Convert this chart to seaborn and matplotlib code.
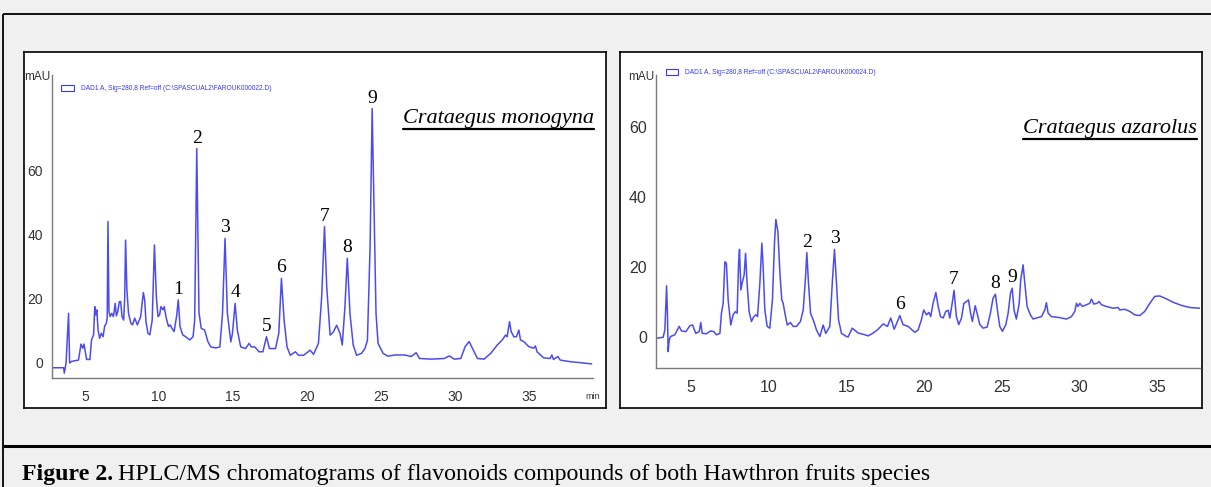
import numpy as np
import pandas as pd
import matplotlib
matplotlib.use("Agg")
import matplotlib.pyplot as plt
from matplotlib.lines import Line2D
from matplotlib.patches import Patch
from matplotlib.ticker import MultipleLocator
import seaborn as sns

# ---------------- data ----------------
monogyna_time = [2.8, 3.56, 3.6, 3.72, 3.89, 3.96, 4.1, 4.56, 4.73, 4.85, 4.93, 5.11, 5.33, 5.44, 5.58,
                 5.66, 5.73, 5.8, 5.88, 5.99, 6.1, 6.22, 6.33, 6.44, 6.5, 6.55, 6.62, 6.7, 6.81, 6.92,
                 7.04, 7.12, 7.21, 7.32, 7.41, 7.5, 7.61, 7.68, 7.74, 7.83, 7.94, 8.1, 8.21, 8.36, 8.54,
                 8.76, 8.94, 9.03, 9.12, 9.25, 9.38, 9.54, 9.69, 9.82, 9.93, 10.04, 10.13, 10.27, 10.35,
                 10.49, 10.64, 10.75, 10.88, 11.02, 11.2, 11.3, 11.42, 11.6, 11.86, 12.08, 12.3, 12.41,
                 12.55, 12.7, 12.85, 13.08, 13.3, 13.5, 13.84, 14.11, 14.29, 14.46, 14.62, 14.85, 14.96,
                 15.14, 15.29, 15.52, 15.85, 16.08, 16.25, 16.48, 16.75, 17.02, 17.26, 17.46, 17.87,
                 18.09, 18.27, 18.45, 18.65, 18.87, 19.21, 19.43, 19.77, 20.21, 20.44, 20.77, 20.99,
                 21.18, 21.33, 21.56, 21.78, 22.0, 22.23, 22.38, 22.56, 22.72, 22.9, 23.12, 23.35, 23.68,
                 23.91, 24.08, 24.26, 24.4, 24.53, 24.66, 24.8, 25.14, 25.47, 25.92, 26.59, 27.04, 27.37,
                 27.6, 28.38, 29.27, 29.61, 29.94, 30.39, 30.68, 30.95, 31.17, 31.51, 31.96, 32.41,
                 32.85, 33.19, 33.41, 33.52, 33.68, 33.79, 33.97, 34.15, 34.31, 34.42, 34.64, 34.98,
                 35.31, 35.43, 35.54, 35.98, 36.43, 36.54, 36.65, 36.95, 37.1, 37.77, 38.44, 39.23]
monogyna_mau = [-1.5, -1.5, -3.2, 0.0, 15.5, 0.0, 0.5, 0.9, 5.9, 4.6, 5.9, 1.1, 1.1, 7.2, 8.8,
                17.6, 15.0, 16.6, 10.3, 7.7, 9.3, 8.2, 11.6, 12.4, 14.0, 44.2, 16.0, 14.5, 15.5, 14.5,
                18.6, 14.7, 16.0, 19.2, 19.2, 14.5, 13.4, 20.0, 38.4, 22.8, 15.5, 12.4, 11.9, 14.0, 11.9,
                14.5, 22.0, 19.7, 12.9, 9.3, 8.8, 13.4, 36.9, 20.7, 14.5, 15.0, 17.6, 16.6, 17.6,
                14.0, 11.4, 11.9, 10.8, 9.8, 15.0, 19.7, 11.4, 8.8, 8.0, 7.2, 8.2, 13.4,
                67.0, 15.8, 10.8, 10.3, 6.7, 5.0, 4.7, 5.0, 15.5, 38.9, 15.5, 6.6, 9.2,
                18.6, 10.3, 5.0, 4.5, 6.1, 5.0, 5.0, 3.5, 3.5, 8.2, 4.5, 4.5,
                9.2, 26.4, 13.4, 5.0, 2.4, 3.5, 2.4, 2.4, 4.0, 2.7, 6.1, 20.7,
                42.6, 23.8, 8.7, 9.7, 11.8, 9.2, 5.6, 17.5, 32.7, 15.5, 5.6, 2.4, 3.0,
                4.5, 7.1, 36.3, 79.5, 46.7, 15.5, 6.1, 3.0, 2.1, 2.5, 2.5, 2.0, 3.2,
                1.4, 1.2, 1.4, 2.2, 1.2, 1.4, 5.1, 6.7, 4.6, 1.4, 1.2, 3.0,
                5.6, 7.2, 8.7, 8.2, 12.9, 9.8, 8.2, 8.2, 10.3, 7.2, 6.7, 5.1,
                4.6, 5.3, 3.5, 1.6, 1.4, 2.5, 1.1, 2.0, 0.9, 0.4, 0.1, -0.3]

azarolus_time = [2.79, 3.22, 3.33, 3.44, 3.5, 3.54, 3.61, 3.69, 3.97, 4.25, 4.4, 4.68, 4.94, 5.11, 5.32,
                 5.54, 5.64, 5.73, 6.01, 6.27, 6.48, 6.65, 6.87, 6.97, 7.08, 7.19, 7.29, 7.4, 7.57, 7.72,
                 7.85, 7.98, 8.07, 8.13, 8.22, 8.32, 8.43, 8.52, 8.62, 8.75, 8.9, 9.05, 9.18, 9.29, 9.44,
                 9.57, 9.65, 9.76, 9.91, 10.08, 10.25, 10.38, 10.47, 10.6, 10.73, 10.85, 10.94, 11.05,
                 11.2, 11.41, 11.58, 11.8, 12.05, 12.23, 12.38, 12.46, 12.57, 12.7, 12.91, 13.08, 13.3,
                 13.51, 13.68, 13.94, 14.11, 14.24, 14.37, 14.5, 14.69, 15.01, 15.12, 15.38, 15.77,
                 16.19, 16.41, 16.73, 17.05, 17.37, 17.65, 17.86, 18.08, 18.29, 18.44, 18.65, 18.98,
                 19.4, 19.62, 19.83, 19.98, 20.16, 20.31, 20.43, 20.58, 20.76, 20.91, 21.06, 21.23,
                 21.4, 21.55, 21.66, 21.81, 21.93, 22.08, 22.23, 22.41, 22.56, 22.73, 22.86, 22.99,
                 23.11, 23.29, 23.41, 23.59, 23.8, 24.06, 24.27, 24.44, 24.59, 24.72, 24.87, 25.04,
                 25.26, 25.41, 25.56, 25.67, 25.79, 25.94, 26.12, 26.22, 26.37, 26.48, 26.63, 26.84,
                 27.02, 27.23, 27.55, 27.77, 27.87, 27.98, 28.2, 28.73, 29.16, 29.48, 29.7, 29.8,
                 29.91, 30.02, 30.19, 30.45, 30.66, 30.77, 30.92, 31.13, 31.26, 31.41, 31.73, 32.16,
                 32.48, 32.59, 32.91, 33.23, 33.55, 33.88, 34.2, 34.52, 34.84, 35.16, 35.48, 36.02,
                 36.56, 37.09, 37.74]
azarolus_mau = [-0.4, -0.1, 2.0, 14.6, 5.8, -4.2, -0.9, 0.1, 0.6, 3.0, 1.7, 1.5, 3.2, 3.4, 1.0,
                1.5, 4.1, 1.0, 0.9, 1.7, 1.5, 0.6, 1.0, 6.8, 9.6, 21.5, 21.0, 10.6, 3.4, 6.3,
                7.2, 6.8, 21.0, 25.0, 13.4, 15.8, 17.7, 23.9, 15.3, 7.2, 4.4, 5.8, 6.3, 5.8, 15.3,
                26.8, 20.1, 7.7, 3.0, 2.5, 10.6, 26.8, 33.6, 30.1, 18.2, 10.6, 9.6, 6.8,
                3.4, 4.1, 3.0, 3.0, 4.4, 7.7, 17.2, 24.1, 15.3, 6.8, 4.4, 2.0, 0.1,
                3.4, 1.0, 3.0, 16.3, 25.0, 15.3, 4.9, 1.0, 0.1, 0.0, 2.5, 1.1,
                0.6, 0.3, 1.1, 2.2, 3.7, 3.0, 5.4, 2.2, 4.4, 6.1, 3.5, 3.0,
                1.3, 2.0, 4.9, 7.7, 6.3, 7.0, 5.8, 9.6, 12.7, 8.7, 5.8, 5.4,
                7.3, 7.6, 5.4, 9.6, 13.3, 5.8, 3.5, 5.4, 9.6, 10.1, 10.6, 6.8,
                4.4, 8.9, 6.8, 3.5, 2.5, 2.8, 6.8, 11.1, 12.2, 7.7, 3.0, 1.6,
                3.5, 6.8, 12.5, 13.9, 7.7, 5.1, 9.6, 16.3, 20.6, 15.4, 8.7, 6.3,
                5.1, 5.4, 5.8, 7.7, 9.8, 6.8, 5.8, 5.5, 5.1, 5.8, 7.3, 9.6,
                8.7, 9.6, 8.7, 9.2, 9.6, 10.8, 9.4, 9.6, 10.1, 9.2, 8.7, 8.2,
                8.4, 7.7, 7.9, 7.3, 6.3, 6.1, 7.3, 9.6, 11.6, 11.7, 11.1, 9.9,
                9.0, 8.4, 8.2]

monogyna_peak_ids = ["1", "2", "3", "4", "5", "6", "7", "8", "9"]
monogyna_peak_times = [11.3, 12.55, 14.46, 15.14, 17.26, 18.27, 21.18, 22.72, 24.4]
azarolus_peak_ids = ["2", "3", "6", "7", "8", "9"]
azarolus_peak_times = [12.46, 14.24, 18.44, 21.93, 24.59, 25.67]

y_tick_labels = [0, 20, 40, 60]
legend_left = r"DAD1 A, Sig=280,8 Ref=off (C:\SPASCUAL2\FAROUK000022.D)"
legend_right = r"DAD1 A, Sig=280,8 Ref=off (C:\SPASCUAL2\FAROUK000024.D)"
species_left = "Crataegus monogyna"
species_right = "Crataegus azarolus"
caption_bold = "Figure 2."
caption_rest = "HPLC/MS chromatograms of flavonoids compounds of both Hawthron fruits species"

# ---------------- styling ----------------
W, H = 1211, 487
BG = "#f0f0f0"
TRACE = "#4b4bf2"
LEG = "#3a3af0"
AXC = "#7a7a7a"
TXT = "#333333"
SANS = ["Liberation Sans", "DejaVu Sans"]
SERIF = ["Liberation Serif", "DejaVu Serif"]

sns.set_style("white")
plt.rcParams["font.family"] = SANS

fig = plt.figure(figsize=(W / 100, H / 100), dpi=100, facecolor=BG)


def px_axes(x0, y0, x1, y1, **kw):
    return fig.add_axes([x0 / W, 1 - y1 / H, (x1 - x0) / W, (y1 - y0) / H], **kw)


def fig_line(xs, ys, lw, color="black"):
    fig.add_artist(Line2D([x / W for x in xs], [1 - y / H for y in ys],
                          transform=fig.transFigure, color=color, lw=lw,
                          solid_capstyle="butt"))


# outer frame
fig_line([3, W], [14, 14], 1.3)
fig_line([3, 3], [14, H], 1.3)
fig_line([3, W], [446, 446], 2.2)

# white panels
for (x0, y0, x1, y1) in [(24, 52, 606, 408), (620, 52, 1202, 408)]:
    p = px_axes(x0, y0, x1, y1, zorder=0)
    p.set_facecolor("white")
    p.set_xticks([])
    p.set_yticks([])
    for s in p.spines.values():
        s.set_color("black")
        s.set_linewidth(1.2)


def chromatogram(rect, times, values, xlim, ylim, tick_fs, legend_text, leg_xy,
                 species, species_xy, peak_ids, peak_times, show_min):
    ax = px_axes(*rect, zorder=2)
    ax.set_facecolor("none")
    df = pd.DataFrame({"time": times, "mAU": values})
    sns.lineplot(data=df, x="time", y="mAU", ax=ax, color=TRACE, linewidth=1.1,
                 estimator=None, sort=False, legend=False)
    ax.set_xlim(*xlim)
    ax.set_ylim(*ylim)
    ax.set_xlabel("")
    ax.set_ylabel("")
    for s in ["top", "right"]:
        ax.spines[s].set_visible(False)
    for s in ["left", "bottom"]:
        ax.spines[s].set_color(AXC)
        ax.spines[s].set_linewidth(1.0)
    ax.xaxis.set_major_locator(MultipleLocator(5))
    ax.xaxis.set_minor_locator(MultipleLocator(1))
    ax.set_yticks(y_tick_labels)
    ax.yaxis.set_minor_locator(MultipleLocator(5))
    ax.tick_params(which="both", direction="out", color=AXC, width=0.8,
                   labelsize=tick_fs, labelcolor=TXT)
    ax.tick_params(which="major", length=3.5)
    ax.tick_params(which="minor", length=2.2)
    ax.tick_params(axis="x", pad=5)
    ax.tick_params(axis="y", pad=3)
    ax.grid(False)

    ax.annotate("mAU", xy=(0, 1), xycoords="axes fraction", xytext=(-1.5, -1.5),
                textcoords="offset points", ha="right", va="center",
                fontsize=8.5, color=TXT, family=SANS)
    if show_min:
        ax.annotate("min", xy=(1, 0), xycoords="axes fraction", xytext=(0, -13),
                    textcoords="offset points", ha="center", va="center",
                    fontsize=6.5, color=TXT, family=SANS)

    ax.legend(handles=[Patch(facecolor="none", edgecolor=LEG, linewidth=0.8)],
              labels=[legend_text], loc="center left", bbox_to_anchor=leg_xy,
              frameon=False, fontsize=4.8, handlelength=1.9, handleheight=0.9,
              handletextpad=1.0, borderaxespad=0, borderpad=0, labelcolor=LEG)

    sp = ax.text(species_xy[0], species_xy[1], species, transform=ax.transAxes,
                 ha="right", va="center", fontsize=16, style="italic",
                 family=SERIF, color="black")

    for pid, pt in zip(peak_ids, peak_times):
        h = float(np.interp(pt, times, values))
        ax.annotate(pid, xy=(pt, h), xytext=(0, 1.5), textcoords="offset points",
                    ha="center", va="bottom", fontsize=14, family=SERIF, color="black")
    return ax, sp


axL, spL = chromatogram((52, 75, 593, 378), monogyna_time, monogyna_mau,
                        (2.77, 39.32), (-4.7, 90.0), 10, legend_left, (0.017, 0.954),
                        species_left, (1.002, 0.858), monogyna_peak_ids,
                        monogyna_peak_times, True)
axR, spR = chromatogram((656, 75, 1200, 368), azarolus_time, azarolus_mau,
                        (2.76, 37.75), (-8.9, 74.9), 11.5, legend_right, (0.018, 1.007),
                        species_right, (0.9945, 0.819), azarolus_peak_ids,
                        azarolus_peak_times, False)

# caption
CAP_FS = 17.2
cb = fig.text(22 / W, 1 - 480 / H, caption_bold, ha="left", va="baseline",
              fontsize=CAP_FS, fontweight="bold", family=SERIF, color="black")

fig.canvas.draw()
r = fig.canvas.get_renderer()

# underline species names
for t in (spL, spR):
    bb = t.get_window_extent(r)
    y = bb.y0 - 1.0
    fig.add_artist(Line2D([bb.x0 / W, bb.x1 / W], [y / H, y / H],
                          transform=fig.transFigure, color="black", lw=1.6))

bb = cb.get_window_extent(r)
fig.text((bb.x1 + 5) / W, 1 - 480 / H, caption_rest, ha="left", va="baseline",
         fontsize=CAP_FS, family=SERIF, color="black")

fig.savefig("out.png", dpi=100, facecolor=BG)
